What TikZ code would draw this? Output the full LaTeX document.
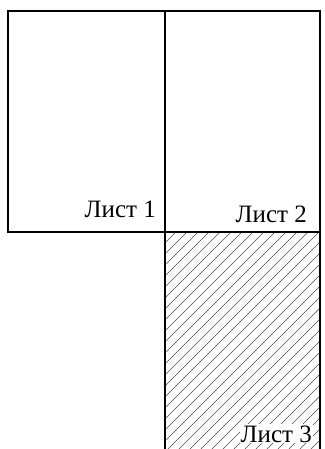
\documentclass[tikz,border=0pt]{standalone}
\usepackage{fontspec}
\setmainfont{Liberation Serif}
\usepackage{tikz}

\begin{document}
\begin{tikzpicture}[
  x=1pt, y=-1pt,
  sheet/.style={draw, line width=1.3pt},
  hatch/.style={draw=black!70, line width=0.6pt},
  label/.style={anchor=base east, inner sep=1pt, font=\fontsize{25}{30}\selectfont}
]
\useasboundingbox (0,0) rectangle (324,449);

% Hatching of sheet 3
\begin{scope}
  \clip (165,232) rectangle (320,449);
  \foreach \c in {-22,-11,...,440}
    \draw[hatch] (165+\c,232) -- ++(-250,250);
\end{scope}

% Sheets
\draw[sheet] (8,11) rectangle (165,232);
\draw[sheet] (165,11) rectangle (320,232);
\draw[sheet] (165,232) -- (165,449);
\draw[sheet] (320,232) -- (320,449);

% Labels
\node[label] (list1) at (157,217) {Лист 1};
\node[label] (list2) at (308,222) {Лист 2};
\node[label, fill=white] (list3) at (313,442) {Лист 3};

\end{tikzpicture}
\end{document}
